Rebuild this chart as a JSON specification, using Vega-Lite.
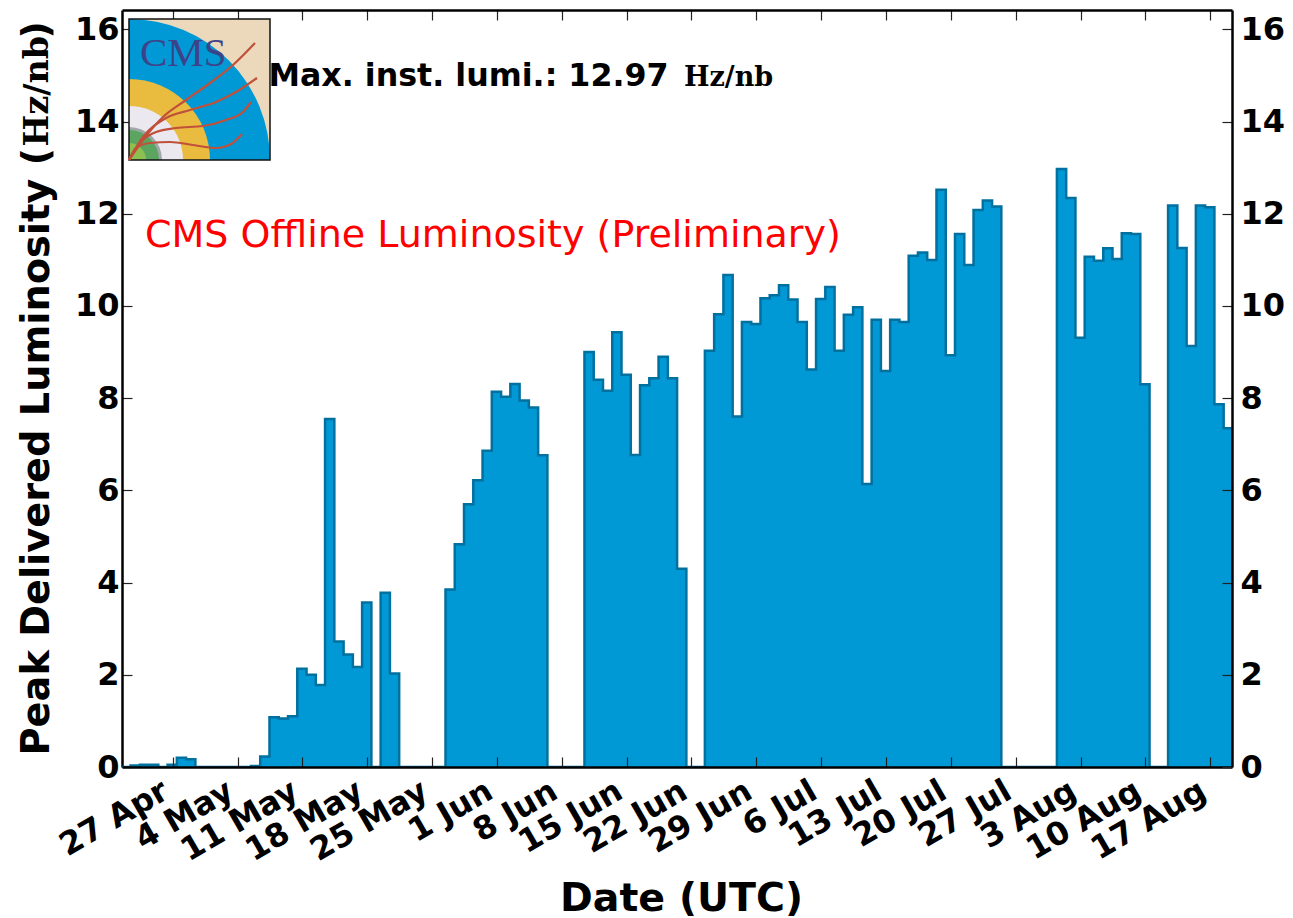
{
"$schema":"https://vega.github.io/schema/vega-lite/v6.json",
"width":1110,"height":757,
"autosize":{"type":"none"},
"padding":{"left":122,"top":10,"right":61,"bottom":151},
"background":"white",
"config":{"view":{"stroke":null},"font":"DejaVu Sans","axis":{"grid":false,"domain":true,"domainColor":"#000","domainWidth":2.5,"ticks":true,"tickColor":"#222","tickWidth":1.2,"tickSize":-10,"labelFont":"DejaVu Sans","labelFontWeight":"bold","labelFontSize":32,"labelColor":"#000","titleFont":"DejaVu Sans","titleFontWeight":"bold","titleColor":"#000"}},
"datasets":{"lumi":[
{"day":"2016-04-21T10:48:00Z","peak":0},{"day":"2016-04-22T10:48:00Z","peak":0.03},{"day":"2016-04-23T10:48:00Z","peak":0.05},{"day":"2016-04-24T10:48:00Z","peak":0.05},{"day":"2016-04-25T10:48:00Z","peak":0},{"day":"2016-04-26T10:48:00Z","peak":0.05},{"day":"2016-04-27T10:48:00Z","peak":0.2},{"day":"2016-04-28T10:48:00Z","peak":0.17},{"day":"2016-04-29T10:48:00Z","peak":0},{"day":"2016-04-30T10:48:00Z","peak":0},
{"day":"2016-05-01T10:48:00Z","peak":0},{"day":"2016-05-02T10:48:00Z","peak":0},{"day":"2016-05-03T10:48:00Z","peak":0},{"day":"2016-05-04T10:48:00Z","peak":0},{"day":"2016-05-05T10:48:00Z","peak":0.02},{"day":"2016-05-06T10:48:00Z","peak":0.23},{"day":"2016-05-07T10:48:00Z","peak":1.08},{"day":"2016-05-08T10:48:00Z","peak":1.05},{"day":"2016-05-09T10:48:00Z","peak":1.1},{"day":"2016-05-10T10:48:00Z","peak":2.13},{"day":"2016-05-11T10:48:00Z","peak":2.0},{"day":"2016-05-12T10:48:00Z","peak":1.78},{"day":"2016-05-13T10:48:00Z","peak":7.55},{"day":"2016-05-14T10:48:00Z","peak":2.72},{"day":"2016-05-15T10:48:00Z","peak":2.44},{"day":"2016-05-16T10:48:00Z","peak":2.17},{"day":"2016-05-17T10:48:00Z","peak":3.57},{"day":"2016-05-18T10:48:00Z","peak":0},{"day":"2016-05-19T10:48:00Z","peak":3.78},{"day":"2016-05-20T10:48:00Z","peak":2.03},{"day":"2016-05-21T10:48:00Z","peak":0},{"day":"2016-05-22T10:48:00Z","peak":0},{"day":"2016-05-23T10:48:00Z","peak":0},{"day":"2016-05-24T10:48:00Z","peak":0},{"day":"2016-05-25T10:48:00Z","peak":0},{"day":"2016-05-26T10:48:00Z","peak":3.85},{"day":"2016-05-27T10:48:00Z","peak":4.83},{"day":"2016-05-28T10:48:00Z","peak":5.7},{"day":"2016-05-29T10:48:00Z","peak":6.22},{"day":"2016-05-30T10:48:00Z","peak":6.86},{"day":"2016-05-31T10:48:00Z","peak":8.14},
{"day":"2016-06-01T10:48:00Z","peak":8.03},{"day":"2016-06-02T10:48:00Z","peak":8.31},{"day":"2016-06-03T10:48:00Z","peak":7.95},{"day":"2016-06-04T10:48:00Z","peak":7.8},{"day":"2016-06-05T10:48:00Z","peak":6.76},{"day":"2016-06-06T10:48:00Z","peak":0},{"day":"2016-06-07T10:48:00Z","peak":0},{"day":"2016-06-08T10:48:00Z","peak":0},{"day":"2016-06-09T10:48:00Z","peak":0},{"day":"2016-06-10T10:48:00Z","peak":9.0},{"day":"2016-06-11T10:48:00Z","peak":8.4},{"day":"2016-06-12T10:48:00Z","peak":8.16},{"day":"2016-06-13T10:48:00Z","peak":9.43},{"day":"2016-06-14T10:48:00Z","peak":8.51},{"day":"2016-06-15T10:48:00Z","peak":6.77},{"day":"2016-06-16T10:48:00Z","peak":8.28},{"day":"2016-06-17T10:48:00Z","peak":8.43},{"day":"2016-06-18T10:48:00Z","peak":8.9},{"day":"2016-06-19T10:48:00Z","peak":8.43},{"day":"2016-06-20T10:48:00Z","peak":4.3},{"day":"2016-06-21T10:48:00Z","peak":0},{"day":"2016-06-22T10:48:00Z","peak":0},{"day":"2016-06-23T10:48:00Z","peak":9.03},{"day":"2016-06-24T10:48:00Z","peak":9.82},{"day":"2016-06-25T10:48:00Z","peak":10.67},{"day":"2016-06-26T10:48:00Z","peak":7.6},{"day":"2016-06-27T10:48:00Z","peak":9.65},{"day":"2016-06-28T10:48:00Z","peak":9.61},{"day":"2016-06-29T10:48:00Z","peak":10.17},{"day":"2016-06-30T10:48:00Z","peak":10.23},
{"day":"2016-07-01T10:48:00Z","peak":10.45},{"day":"2016-07-02T10:48:00Z","peak":10.14},{"day":"2016-07-03T10:48:00Z","peak":9.65},{"day":"2016-07-04T10:48:00Z","peak":8.62},{"day":"2016-07-05T10:48:00Z","peak":10.15},{"day":"2016-07-06T10:48:00Z","peak":10.41},{"day":"2016-07-07T10:48:00Z","peak":9.03},{"day":"2016-07-08T10:48:00Z","peak":9.81},{"day":"2016-07-09T10:48:00Z","peak":9.97},{"day":"2016-07-10T10:48:00Z","peak":6.14},{"day":"2016-07-11T10:48:00Z","peak":9.7},{"day":"2016-07-12T10:48:00Z","peak":8.59},{"day":"2016-07-13T10:48:00Z","peak":9.7},{"day":"2016-07-14T10:48:00Z","peak":9.65},{"day":"2016-07-15T10:48:00Z","peak":11.09},{"day":"2016-07-16T10:48:00Z","peak":11.16},{"day":"2016-07-17T10:48:00Z","peak":11.0},{"day":"2016-07-18T10:48:00Z","peak":12.52},{"day":"2016-07-19T10:48:00Z","peak":8.93},{"day":"2016-07-20T10:48:00Z","peak":11.56},{"day":"2016-07-21T10:48:00Z","peak":10.89},{"day":"2016-07-22T10:48:00Z","peak":12.08},{"day":"2016-07-23T10:48:00Z","peak":12.29},{"day":"2016-07-24T10:48:00Z","peak":12.16},{"day":"2016-07-25T10:48:00Z","peak":0},{"day":"2016-07-26T10:48:00Z","peak":0},{"day":"2016-07-27T10:48:00Z","peak":0},{"day":"2016-07-28T10:48:00Z","peak":0},{"day":"2016-07-29T10:48:00Z","peak":0},{"day":"2016-07-30T10:48:00Z","peak":0},{"day":"2016-07-31T10:48:00Z","peak":12.97},
{"day":"2016-08-01T10:48:00Z","peak":12.34},{"day":"2016-08-02T10:48:00Z","peak":9.31},{"day":"2016-08-03T10:48:00Z","peak":11.07},{"day":"2016-08-04T10:48:00Z","peak":10.98},{"day":"2016-08-05T10:48:00Z","peak":11.25},{"day":"2016-08-06T10:48:00Z","peak":11.02},{"day":"2016-08-07T10:48:00Z","peak":11.58},{"day":"2016-08-08T10:48:00Z","peak":11.56},{"day":"2016-08-09T10:48:00Z","peak":8.3},{"day":"2016-08-10T10:48:00Z","peak":0},{"day":"2016-08-11T10:48:00Z","peak":0},{"day":"2016-08-12T10:48:00Z","peak":12.18},{"day":"2016-08-13T10:48:00Z","peak":11.26},{"day":"2016-08-14T10:48:00Z","peak":9.13},{"day":"2016-08-15T10:48:00Z","peak":12.18},{"day":"2016-08-16T10:48:00Z","peak":12.14},{"day":"2016-08-17T10:48:00Z","peak":7.87},{"day":"2016-08-18T10:48:00Z","peak":7.35},{"day":"2016-08-19T10:48:00Z","peak":7.35}
],
"tracks":[
{"t":"a","k":0,"u":0,"v":0},{"t":"a","k":1,"u":14,"v":20},{"t":"a","k":2,"u":34,"v":43},{"t":"a","k":3,"u":57,"v":60},{"t":"a","k":4,"u":81,"v":77},{"t":"a","k":5,"u":104,"v":95},{"t":"a","k":6,"u":126,"v":117},
{"t":"b","k":0,"u":0,"v":0},{"t":"b","k":1,"u":14,"v":23},{"t":"b","k":2,"u":37,"v":42},{"t":"b","k":3,"u":61,"v":50},{"t":"b","k":4,"u":87,"v":58},{"t":"b","k":5,"u":107,"v":68},{"t":"b","k":6,"u":128,"v":82},
{"t":"c","k":0,"u":0,"v":0},{"t":"c","k":1,"u":14,"v":20},{"t":"c","k":2,"u":27,"v":28},{"t":"c","k":3,"u":47,"v":32},{"t":"c","k":4,"u":74,"v":34},{"t":"c","k":5,"u":97,"v":40},{"t":"c","k":6,"u":114,"v":48},{"t":"c","k":7,"u":122,"v":58},
{"t":"d","k":0,"u":0,"v":0},{"t":"d","k":1,"u":7,"v":12},{"t":"d","k":2,"u":21,"v":17},{"t":"d","k":3,"u":41,"v":18},{"t":"d","k":4,"u":64,"v":15},{"t":"d","k":5,"u":87,"v":12},{"t":"d","k":6,"u":102,"v":16},{"t":"d","k":7,"u":113,"v":26}
]},
"resolve":{"scale":{"x":"independent","y":"independent"}},
"layer":[
{"resolve":{"axis":{"x":"independent","y":"independent"}},
"layer":[
{"data":{"name":"lumi"},"mark":{"type":"area","interpolate":"step-after","color":"#0099D6","clip":true},
"encoding":{"x":{"field":"day","type":"temporal","scale":{"type":"utc","domain":[{"year":2016,"month":"apr","date":21,"hours":12,"minutes":43,"utc":true},{"year":2016,"month":"aug","date":19,"hours":8,"minutes":24,"utc":true}]},
"axis":{"orient":"bottom","zindex":1,"title":"Date (UTC)","titleFontSize":39.5,"titleX":559,"titleY":143,"titleBaseline":"alphabetic","titleAlign":"center","format":"%-d %b","labelAngle":-30,"labelAlign":"right","labelBaseline":"top","labelPadding":18,"labelOffset":-15,"labelOverlap":false,"labelBound":false,"labelFlush":false,
"values":[{"year":2016,"month":"apr","date":27,"utc":true},{"year":2016,"month":"may","date":4,"utc":true},{"year":2016,"month":"may","date":11,"utc":true},{"year":2016,"month":"may","date":18,"utc":true},{"year":2016,"month":"may","date":25,"utc":true},{"year":2016,"month":"jun","date":1,"utc":true},{"year":2016,"month":"jun","date":8,"utc":true},{"year":2016,"month":"jun","date":15,"utc":true},{"year":2016,"month":"jun","date":22,"utc":true},{"year":2016,"month":"jun","date":29,"utc":true},{"year":2016,"month":"jul","date":6,"utc":true},{"year":2016,"month":"jul","date":13,"utc":true},{"year":2016,"month":"jul","date":20,"utc":true},{"year":2016,"month":"jul","date":27,"utc":true},{"year":2016,"month":"aug","date":3,"utc":true},{"year":2016,"month":"aug","date":10,"utc":true},{"year":2016,"month":"aug","date":17,"utc":true}]}},
"y":{"field":"peak","type":"quantitative","scale":{"domain":[0,16.42],"nice":false},
"axis":{"orient":"left","zindex":0,"title":"Peak Delivered Luminosity","titleFontSize":38.3,"titleAngle":270,"titleAlign":"left","titleBaseline":"alphabetic","titleX":-74,"titleY":745,"values":[0,2,4,6,8,10,12,14,16],"labelPadding":13}}}},
{"data":{"name":"lumi"},"mark":{"type":"line","interpolate":"step-after","color":"#00709F","strokeWidth":2.5,"clip":true},
"encoding":{"x":{"field":"day","type":"temporal","scale":{"type":"utc","domain":[{"year":2016,"month":"apr","date":21,"hours":12,"minutes":43,"utc":true},{"year":2016,"month":"aug","date":19,"hours":8,"minutes":24,"utc":true}]},
"axis":{"orient":"top","zindex":0,"title":null,"labels":false,
"values":[{"year":2016,"month":"apr","date":27,"utc":true},{"year":2016,"month":"may","date":4,"utc":true},{"year":2016,"month":"may","date":11,"utc":true},{"year":2016,"month":"may","date":18,"utc":true},{"year":2016,"month":"may","date":25,"utc":true},{"year":2016,"month":"jun","date":1,"utc":true},{"year":2016,"month":"jun","date":8,"utc":true},{"year":2016,"month":"jun","date":15,"utc":true},{"year":2016,"month":"jun","date":22,"utc":true},{"year":2016,"month":"jun","date":29,"utc":true},{"year":2016,"month":"jul","date":6,"utc":true},{"year":2016,"month":"jul","date":13,"utc":true},{"year":2016,"month":"jul","date":20,"utc":true},{"year":2016,"month":"jul","date":27,"utc":true},{"year":2016,"month":"aug","date":3,"utc":true},{"year":2016,"month":"aug","date":10,"utc":true},{"year":2016,"month":"aug","date":17,"utc":true}]}},
"y":{"field":"peak","type":"quantitative","scale":{"domain":[0,16.42],"nice":false},
"axis":{"orient":"right","zindex":1,"title":null,"values":[0,2,4,6,8,10,12,14,16],"labelPadding":18}}}},
{"data":{"values":[{"label":"Max. inst. lumi.: 12.97"}]},"mark":{"type":"text","align":"left","baseline":"alphabetic","font":"DejaVu Sans","fontWeight":"bold","fontSize":31.7,"color":"#000"},
"encoding":{"text":{"field":"label"},"x":{"datum":{"year":2016,"month":"may","date":7,"hours":8,"utc":true},"type":"temporal","axis":null,"scale":{"type":"utc","domain":[{"year":2016,"month":"apr","date":21,"hours":12,"minutes":43,"utc":true},{"year":2016,"month":"aug","date":19,"hours":8,"minutes":24,"utc":true}]}},"y":{"datum":14.78,"type":"quantitative","axis":null,"scale":{"domain":[0,16.42],"nice":false}}}},
{"data":{"values":[{"label":"Hz/nb"}]},"mark":{"type":"text","align":"left","baseline":"alphabetic","font":"DejaVu Serif","fontWeight":"bold","fontSize":27,"color":"#000"},
"encoding":{"text":{"field":"label"},"x":{"datum":{"year":2016,"month":"jun","date":21,"hours":4,"minutes":36,"utc":true},"type":"temporal","axis":null,"scale":{"type":"utc","domain":[{"year":2016,"month":"apr","date":21,"hours":12,"minutes":43,"utc":true},{"year":2016,"month":"aug","date":19,"hours":8,"minutes":24,"utc":true}]}},"y":{"datum":14.78,"type":"quantitative","axis":null,"scale":{"domain":[0,16.42],"nice":false}}}},
{"data":{"values":[{"label":"CMS Offline Luminosity (Preliminary)"}]},"mark":{"type":"text","align":"left","baseline":"alphabetic","font":"DejaVu Sans","fontSize":38,"color":"#FF0000"},
"encoding":{"text":{"field":"label"},"x":{"datum":{"year":2016,"month":"apr","date":24,"minutes":15,"utc":true},"type":"temporal","axis":null,"scale":{"type":"utc","domain":[{"year":2016,"month":"apr","date":21,"hours":12,"minutes":43,"utc":true},{"year":2016,"month":"aug","date":19,"hours":8,"minutes":24,"utc":true}]}},"y":{"datum":11.27,"type":"quantitative","axis":null,"scale":{"domain":[0,16.42],"nice":false}}}},
{"data":{"values":[{"label":"("}]},"mark":{"type":"text","align":"left","baseline":"alphabetic","angle":270,"font":"DejaVu Sans","fontWeight":"bold","fontSize":38,"color":"#000"},
"encoding":{"text":{"field":"label"},"x":{"datum":{"year":2016,"month":"apr","date":13,"hours":13,"utc":true},"type":"temporal","axis":null,"scale":{"type":"utc","domain":[{"year":2016,"month":"apr","date":21,"hours":12,"minutes":43,"utc":true},{"year":2016,"month":"aug","date":19,"hours":8,"minutes":24,"utc":true}]}},"y":{"datum":13.05,"type":"quantitative","axis":null,"scale":{"domain":[0,16.42],"nice":false}}}},
{"data":{"values":[{"label":"Hz/nb"}]},"mark":{"type":"text","align":"left","baseline":"alphabetic","angle":270,"font":"DejaVu Serif","fontWeight":"bold","fontSize":33.5,"color":"#000"},
"encoding":{"text":{"field":"label"},"x":{"datum":{"year":2016,"month":"apr","date":13,"hours":13,"utc":true},"type":"temporal","axis":null,"scale":{"type":"utc","domain":[{"year":2016,"month":"apr","date":21,"hours":12,"minutes":43,"utc":true},{"year":2016,"month":"aug","date":19,"hours":8,"minutes":24,"utc":true}]}},"y":{"datum":13.46,"type":"quantitative","axis":null,"scale":{"domain":[0,16.42],"nice":false}}}},
{"data":{"values":[{"label":")"}]},"mark":{"type":"text","align":"left","baseline":"alphabetic","angle":270,"font":"DejaVu Sans","fontWeight":"bold","fontSize":38,"color":"#000"},
"encoding":{"text":{"field":"label"},"x":{"datum":{"year":2016,"month":"apr","date":13,"hours":13,"utc":true},"type":"temporal","axis":null,"scale":{"type":"utc","domain":[{"year":2016,"month":"apr","date":21,"hours":12,"minutes":43,"utc":true},{"year":2016,"month":"aug","date":19,"hours":8,"minutes":24,"utc":true}]}},"y":{"datum":15.8,"type":"quantitative","axis":null,"scale":{"domain":[0,16.42],"nice":false}}}}
]},
{"layer":[
{"data":{"values":[{"logo":"CMS"}]},"encoding":{"x":{"datum":0,"type":"quantitative","axis":null,"scale":{"domain":[0,141],"range":[7,148]}},"y":{"datum":0,"type":"quantitative","axis":null,"scale":{"domain":[0,141],"range":[150,9]}}},
"layer":[
{"mark":{"type":"rect","fill":"#ECD9BB"},"encoding":{"x2":{"datum":141},"y2":{"datum":141}}},
{"mark":{"type":"arc","theta":0,"theta2":1.5708,"radius":141,"fill":"#0099D6"}},
{"mark":{"type":"arc","theta":0,"theta2":1.5708,"radius":81,"fill":"#E9BC40"}},
{"mark":{"type":"arc","theta":0,"theta2":1.5708,"radius":54,"fill":"#EBE8F0"}},
{"mark":{"type":"arc","theta":0,"theta2":1.5708,"radius":33,"fill":"#9FA8A8"}},
{"mark":{"type":"arc","theta":0,"theta2":1.5708,"radius":30,"fill":"#5BA560"}},
{"mark":{"type":"arc","theta":0,"theta2":1.5708,"radius":17,"fill":"#8CC050"}},
{"mark":{"type":"text","align":"left","baseline":"alphabetic","font":"Liberation Serif","fontSize":41,"color":"#3D4389"},"encoding":{"text":{"field":"logo"},"x":{"datum":11,"type":"quantitative","axis":null,"scale":{"domain":[0,141],"range":[7,148]}},"y":{"datum":94,"type":"quantitative","axis":null,"scale":{"domain":[0,141],"range":[150,9]}}}},
{"mark":{"type":"rect","fill":null,"stroke":"#111","strokeWidth":1.5},"encoding":{"x2":{"datum":141},"y2":{"datum":141}}}
]},
{"data":{"name":"tracks"},"mark":{"type":"line","interpolate":"monotone","stroke":"#C0503A","strokeWidth":2.2},"encoding":{"detail":{"field":"t","type":"nominal"},"x":{"field":"u","type":"quantitative","axis":null,"scale":{"domain":[0,141],"range":[7,148]}},"y":{"field":"v","type":"quantitative","axis":null,"scale":{"domain":[0,141],"range":[150,9]}}}}
]}
]
}
